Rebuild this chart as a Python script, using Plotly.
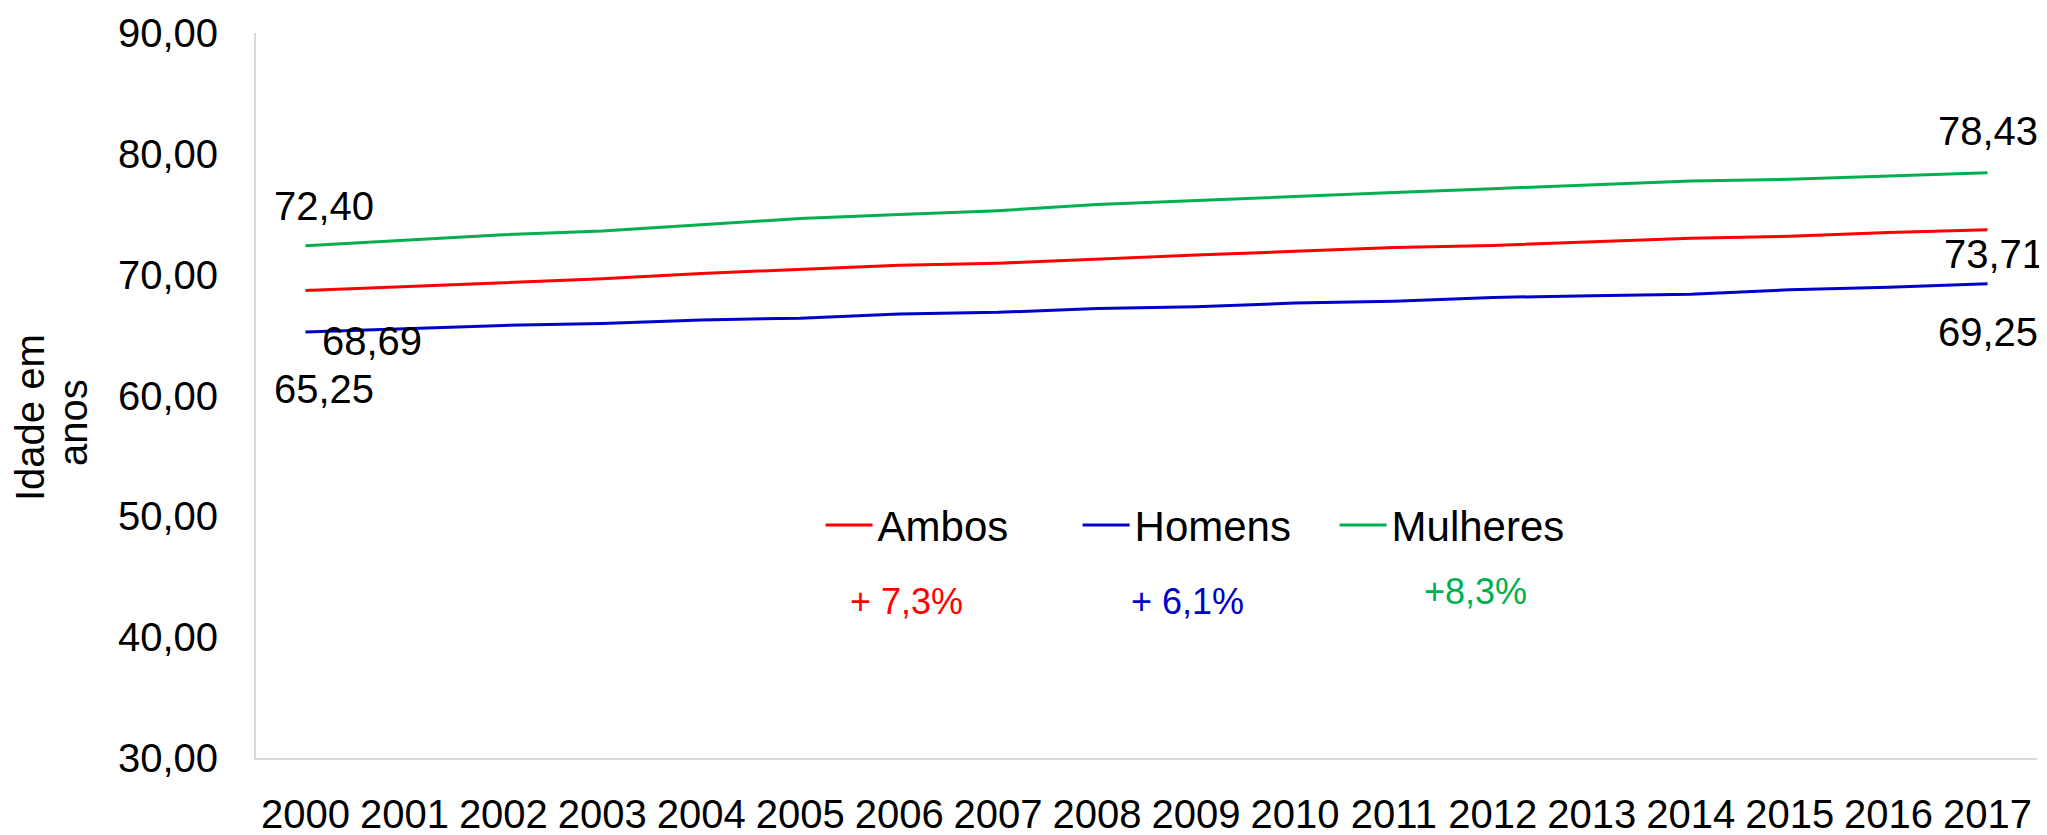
"""Esperança de vida ao nascer, 2000-2017 (Ambos, Homens, Mulheres)."""

import plotly.graph_objects as go

years = [str(y) for y in range(2000, 2018)]

ambos = [68.69, 69.02, 69.35, 69.66, 70.10, 70.44, 70.78, 70.95, 71.30,
         71.62, 71.93, 72.25, 72.42, 72.73, 73.02, 73.18, 73.48, 73.71]
homens = [65.25, 65.52, 65.80, 65.95, 66.25, 66.40, 66.75, 66.88, 67.20,
          67.35, 67.65, 67.80, 68.12, 68.25, 68.38, 68.75, 68.95, 69.25]
mulheres = [72.40, 72.85, 73.30, 73.62, 74.15, 74.65, 74.98, 75.30, 75.80,
            76.15, 76.45, 76.80, 77.12, 77.45, 77.75, 77.90, 78.15, 78.43]

y_ticks = [30, 40, 50, 60, 70, 80, 90]
y_tick_text = ["30,00", "40,00", "50,00", "60,00", "70,00", "80,00", "90,00"]

variacao = ["+ 7,3%", "+ 6,1%", "+8,3%"]
y_title = ["Idade em", "anos"]

RED, BLUE, GREEN = "#FF0000", "#0000CC", "#00B050"
FONT = "Liberation Sans, Arial, sans-serif"


def fmt(v: float) -> str:
    return f"{v:.2f}".replace(".", ",")


fig = go.Figure()
for name, vals, color in [("Ambos", ambos, RED), ("Homens", homens, BLUE),
                          ("Mulheres", mulheres, GREEN)]:
    fig.add_trace(go.Scatter(x=years, y=vals, name=name, mode="lines",
                             line=dict(color=color, width=3)))

# end-point labels (first / last year of each series); x is the category index
first, last = 0, len(years) - 1
labels = [
    (first, mulheres[first], 19, 40),
    (first, ambos[first], 67, -50),
    (first, homens[first], 19, -57),
    (last, mulheres[last], 0, 42),
    (last, ambos[last], 6, -24),
    (last, homens[last], 0, -48),
]
for x, y, dx, dy in labels:
    fig.add_annotation(x=x, y=y, text=fmt(y), showarrow=False, xshift=dx, yshift=dy,
                       xanchor="center", yanchor="middle",
                       font=dict(size=40, color="black", family=FONT))

# variation labels below the legend
for txt, color, px, py in zip(variacao, [RED, BLUE, GREEN],
                              [0.3650, 0.5233, 0.6845], [0.2152, 0.2152, 0.2303]):
    fig.add_annotation(x=px, y=py, xref="paper", yref="paper", text=txt,
                       xanchor="center", yanchor="middle", showarrow=False,
                       font=dict(size=36, color=color, family=FONT))

# y-axis title, two tight lines (rotated)
for txt, px, py in zip(y_title, [-0.1269, -0.1028], [0.4703, 0.4634]):
    fig.add_annotation(x=px, y=py, xref="paper", yref="paper", text=txt,
                       textangle=-90, xanchor="center", yanchor="middle",
                       showarrow=False, font=dict(size=40, color="black", family=FONT))

# the page body adds an 8px margin, so the figure is 8px smaller than the window
fig.update_layout(
    width=2039, height=827,
    margin=dict(l=248, r=10, t=25, b=77),
    paper_bgcolor="white", plot_bgcolor="white",
    font=dict(family=FONT, size=40, color="black"),
    showlegend=True,
    legend=dict(orientation="h", x=0.317, y=0.321, xanchor="left", yanchor="middle",
                font=dict(size=42), itemwidth=47, entrywidth=195,
                bgcolor="rgba(0,0,0,0)"),
    xaxis=dict(type="category", range=[-0.5, 17.5], showgrid=False, showline=True,
               linecolor="#D9D9D9", linewidth=2, ticks="", ticklabelstandoff=20,
               tickfont=dict(size=40), automargin=False),
    yaxis=dict(range=[30, 90], tickvals=y_ticks, ticktext=y_tick_text, showgrid=False,
               zeroline=False, showline=True, linecolor="#D9D9D9", linewidth=2,
               ticks="", ticklabelstandoff=28, tickfont=dict(size=40), automargin=False),
)

fig.write_html("out.html")
